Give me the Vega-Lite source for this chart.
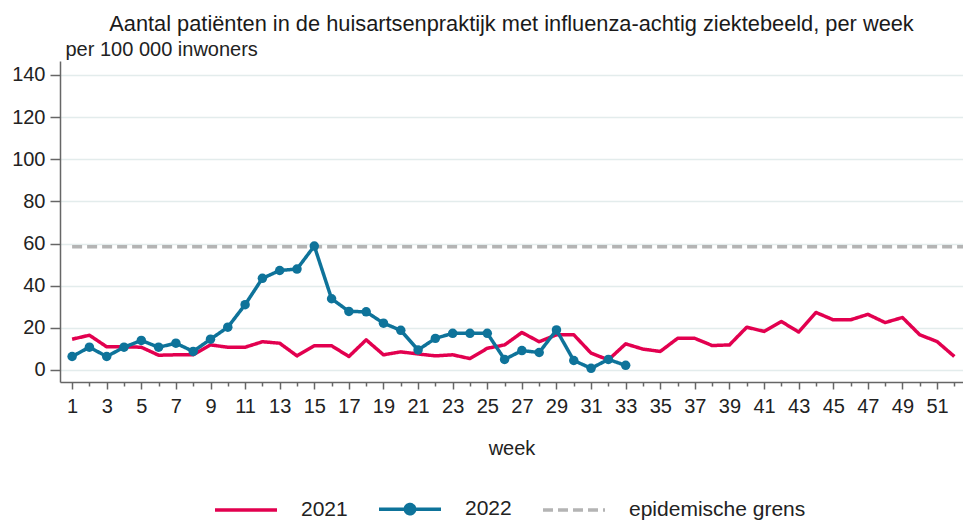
{
  "$schema": "https://vega.github.io/schema/vega-lite/v6.json",
  "width": 903,
  "height": 321,
  "autosize": {"type": "none"},
  "padding": {"left": 60, "top": 61, "right": 0, "bottom": 140},
  "background": "white",
  "config": {
    "font": "Liberation Sans",
    "view": {"stroke": null},
    "axis": {"labelColor": "#222222", "titleColor": "#222222", "labelFont": "Liberation Sans", "titleFont": "Liberation Sans", "titleFontWeight": "normal", "domainColor": "#666666", "tickColor": "#666666", "domainWidth": 1.5, "tickWidth": 1.5},
    "legend": {"labelFont": "Liberation Sans", "labelFontSize": 21, "labelColor": "#222222", "labelLimit": 400}
  },
  "title": {
    "text": "Aantal patiënten in de huisartsenpraktijk met influenza-achtig ziektebeeld, per week",
    "fontSize": 21.8,
    "fontWeight": "normal",
    "color": "#1a1a1a",
    "anchor": "middle",
    "baseline": "alphabetic",
    "offset": 13,
    "dy": 27
  },
  "data": {
    "values": [
      {"week": 1, "value": 14.6, "series": "2021"},
      {"week": 2, "value": 16.5, "series": "2021"},
      {"week": 3, "value": 11.0, "series": "2021"},
      {"week": 4, "value": 11.0, "series": "2021"},
      {"week": 5, "value": 10.8, "series": "2021"},
      {"week": 6, "value": 7.0, "series": "2021"},
      {"week": 7, "value": 7.2, "series": "2021"},
      {"week": 8, "value": 7.2, "series": "2021"},
      {"week": 9, "value": 11.9, "series": "2021"},
      {"week": 10, "value": 10.8, "series": "2021"},
      {"week": 11, "value": 10.8, "series": "2021"},
      {"week": 12, "value": 13.4, "series": "2021"},
      {"week": 13, "value": 12.7, "series": "2021"},
      {"week": 14, "value": 6.7, "series": "2021"},
      {"week": 15, "value": 11.5, "series": "2021"},
      {"week": 16, "value": 11.5, "series": "2021"},
      {"week": 17, "value": 6.4, "series": "2021"},
      {"week": 18, "value": 14.3, "series": "2021"},
      {"week": 19, "value": 7.2, "series": "2021"},
      {"week": 20, "value": 8.6, "series": "2021"},
      {"week": 21, "value": 7.6, "series": "2021"},
      {"week": 22, "value": 6.7, "series": "2021"},
      {"week": 23, "value": 7.2, "series": "2021"},
      {"week": 24, "value": 5.4, "series": "2021"},
      {"week": 25, "value": 10.3, "series": "2021"},
      {"week": 26, "value": 11.9, "series": "2021"},
      {"week": 27, "value": 17.8, "series": "2021"},
      {"week": 28, "value": 13.4, "series": "2021"},
      {"week": 29, "value": 16.7, "series": "2021"},
      {"week": 30, "value": 16.7, "series": "2021"},
      {"week": 31, "value": 8.0, "series": "2021"},
      {"week": 32, "value": 4.8, "series": "2021"},
      {"week": 33, "value": 12.4, "series": "2021"},
      {"week": 34, "value": 9.9, "series": "2021"},
      {"week": 35, "value": 8.8, "series": "2021"},
      {"week": 36, "value": 15.0, "series": "2021"},
      {"week": 37, "value": 15.0, "series": "2021"},
      {"week": 38, "value": 11.6, "series": "2021"},
      {"week": 39, "value": 11.9, "series": "2021"},
      {"week": 40, "value": 20.3, "series": "2021"},
      {"week": 41, "value": 18.3, "series": "2021"},
      {"week": 42, "value": 23.0, "series": "2021"},
      {"week": 43, "value": 18.0, "series": "2021"},
      {"week": 44, "value": 27.3, "series": "2021"},
      {"week": 45, "value": 23.8, "series": "2021"},
      {"week": 46, "value": 23.8, "series": "2021"},
      {"week": 47, "value": 26.4, "series": "2021"},
      {"week": 48, "value": 22.5, "series": "2021"},
      {"week": 49, "value": 24.9, "series": "2021"},
      {"week": 50, "value": 16.7, "series": "2021"},
      {"week": 51, "value": 13.5, "series": "2021"},
      {"week": 52, "value": 6.4, "series": "2021"},
      {"week": 1, "value": 6.4, "series": "2022"},
      {"week": 2, "value": 10.8, "series": "2022"},
      {"week": 3, "value": 6.4, "series": "2022"},
      {"week": 4, "value": 10.8, "series": "2022"},
      {"week": 5, "value": 14.0, "series": "2022"},
      {"week": 6, "value": 10.8, "series": "2022"},
      {"week": 7, "value": 12.7, "series": "2022"},
      {"week": 8, "value": 8.8, "series": "2022"},
      {"week": 9, "value": 14.6, "series": "2022"},
      {"week": 10, "value": 20.3, "series": "2022"},
      {"week": 11, "value": 31.0, "series": "2022"},
      {"week": 12, "value": 43.5, "series": "2022"},
      {"week": 13, "value": 47.2, "series": "2022"},
      {"week": 14, "value": 47.9, "series": "2022"},
      {"week": 15, "value": 58.8, "series": "2022"},
      {"week": 16, "value": 33.8, "series": "2022"},
      {"week": 17, "value": 27.8, "series": "2022"},
      {"week": 18, "value": 27.6, "series": "2022"},
      {"week": 19, "value": 22.2, "series": "2022"},
      {"week": 20, "value": 18.8, "series": "2022"},
      {"week": 21, "value": 9.5, "series": "2022"},
      {"week": 22, "value": 15.0, "series": "2022"},
      {"week": 23, "value": 17.4, "series": "2022"},
      {"week": 24, "value": 17.4, "series": "2022"},
      {"week": 25, "value": 17.4, "series": "2022"},
      {"week": 26, "value": 5.0, "series": "2022"},
      {"week": 27, "value": 9.2, "series": "2022"},
      {"week": 28, "value": 8.3, "series": "2022"},
      {"week": 29, "value": 19.0, "series": "2022"},
      {"week": 30, "value": 4.5, "series": "2022"},
      {"week": 31, "value": 0.8, "series": "2022"},
      {"week": 32, "value": 5.0, "series": "2022"},
      {"week": 33, "value": 2.2, "series": "2022"},
      {"week": 1, "value": 58.5, "series": "epidemische grens"},
      {"week": 52.5, "value": 58.5, "series": "epidemische grens"}
    ]
  },
  "layer": [
    {
      "mark": {"type": "line", "strokeJoin": "round", "strokeCap": "butt"},
      "encoding": {
        "x": {
          "field": "week", "type": "quantitative",
          "scale": {"domain": [0.3, 52.5], "nice": false, "zero": false},
          "axis": {
            "values": [1,3,5,7,9,11,13,15,17,19,21,23,25,27,29,31,33,35,37,39,41,43,45,47,49,51],
            "title": "week", "titleFontSize": 20, "titlePadding": 22,
            "labelFontSize": 20, "labelPadding": 7, "tickSize": 7, "grid": false, "orient": "bottom"
          }
        },
        "y": {
          "field": "value", "type": "quantitative",
          "scale": {"domain": [-5.7, 146.6], "nice": false, "zero": false},
          "axis": {
            "values": [0,20,40,60,80,100,120,140],
            "title": "per 100 000 inwoners", "titleAngle": 0, "titleAlign": "left", "titleBaseline": "alphabetic",
            "titleX": 5, "titleY": -6, "titleFontSize": 20,
            "labelFontSize": 20, "labelPadding": 5, "tickSize": 10,
            "grid": true, "gridColor": "#e3ecec", "gridWidth": 1.5
          }
        },
        "color": {
          "field": "series", "type": "nominal",
          "scale": {"domain": ["2021", "2022", "epidemische grens"], "range": ["#e2004f", "#0e739a", "#b4b4b4"]},
          "legend": {
            "title": null, "orient": "none", "legendX": 153, "legendY": 415, "direction": "horizontal",
            "symbolType": "stroke", "symbolSize": 3844, "symbolStrokeWidth": 4,
            "labelOffset": 22, "columnPadding": 24, "labelLimit": 400,
            "encode": {
              "symbols": {
                "update": {
                  "shape": [{"test": "datum.label === '2022'", "value": "M-1,0H1M-0.15,0A0.15,0.15 0 1,0 0.15,0A0.15,0.15 0 1,0 -0.15,0Z"}, {"value": "stroke"}],
                  "fill": [{"test": "datum.label === '2022'", "value": "#0e739a"}, {"value": "transparent"}],
                  "strokeWidth": [{"test": "datum.label === 'epidemische grens'", "value": 2.5}, {"value": 4}]
                }
              }
            }
          }
        },
        "strokeDash": {
          "field": "series", "type": "nominal",
          "scale": {"domain": ["2021", "2022", "epidemische grens"], "range": [[1, 0], [1, 0], [10, 5]]},
          "legend": {"title": null, "orient": "none", "legendX": 153, "legendY": 415, "direction": "horizontal", "symbolType": "stroke", "symbolSize": 3844, "labelOffset": 22, "columnPadding": 24, "labelLimit": 400}
        },
        "strokeWidth": {
          "field": "series", "type": "nominal",
          "scale": {"domain": ["2021", "2022", "epidemische grens"], "range": [3.5, 3.5, 2.5]},
          "legend": null
        }
      }
    },
    {
      "transform": [{"filter": "datum.series === '2022'"}],
      "mark": {"type": "point", "filled": true, "size": 90, "opacity": 1},
      "encoding": {
        "x": {
          "field": "week", "type": "quantitative",
          "scale": {"domain": [0.3, 52.5], "nice": false, "zero": false},
          "axis": {
            "values": [2,4,6,8,10,12,14,16,18,20,22,24,26,28,30,32,34,36,38,40,42,44,46,48,50,52],
            "labels": false, "domain": false, "title": null, "tickSize": 4, "grid": false, "orient": "bottom"
          }
        },
        "y": {"field": "value", "type": "quantitative"},
        "color": {"value": "#0e739a"}
      }
    }
  ],
  "resolve": {"axis": {"x": "independent"}}
}
